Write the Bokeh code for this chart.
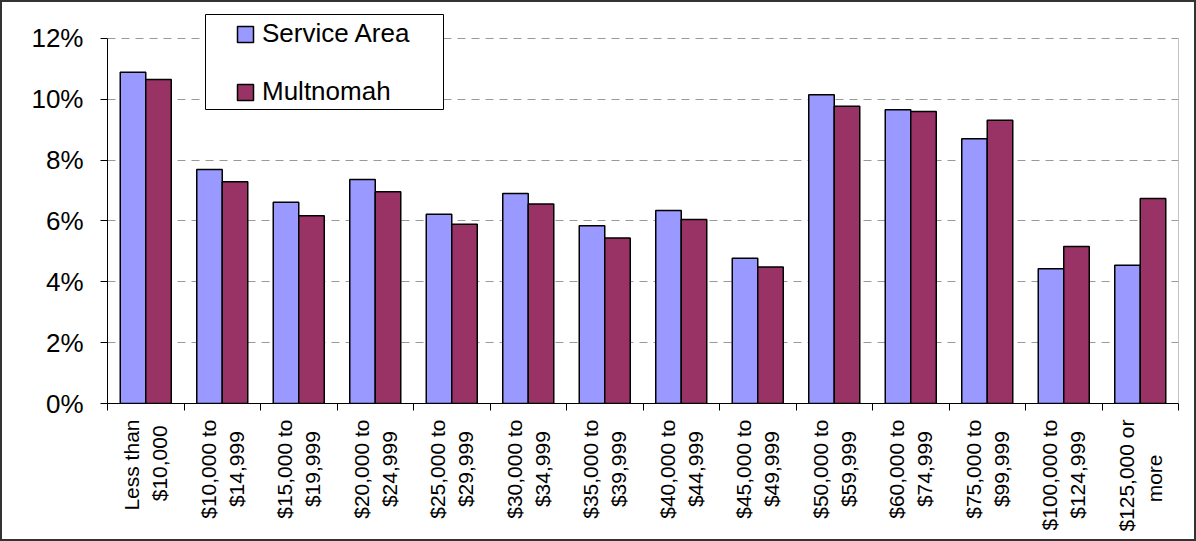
import math
from bokeh.plotting import figure
from bokeh.layouts import column
from bokeh.models import (ColumnDataSource, Range1d, FixedTicker, PrintfTickFormatter,
                          BoxAnnotation, Legend, LegendItem)
from bokeh.transform import dodge
from bokeh.embed import file_html
from bokeh.resources import INLINE

categories = ["Less than\n$10,000", "$10,000 to\n$14,999", "$15,000 to\n$19,999",
              "$20,000 to\n$24,999", "$25,000 to\n$29,999", "$30,000 to\n$34,999",
              "$35,000 to\n$39,999", "$40,000 to\n$44,999", "$45,000 to\n$49,999",
              "$50,000 to\n$59,999", "$60,000 to\n$74,999", "$75,000 to\n$99,999",
              "$100,000 to\n$124,999", "$125,000 or\nmore"]
service_area = [10.89, 7.69, 6.61, 7.36, 6.22, 6.90, 5.84, 6.34, 4.77, 10.15, 9.65, 8.70, 4.43, 4.54]
multnomah = [10.65, 7.29, 6.17, 6.96, 5.89, 6.56, 5.44, 6.05, 4.49, 9.77, 9.60, 9.31, 5.16, 6.74]
y_ticks = [0, 2, 4, 6, 8, 10, 12]

n = len(categories)
idx = list(range(n))
src = ColumnDataSource(dict(idx=idx, sa=service_area, mu=multnomah))

FONT = "Liberation Sans"
Y_TOP = 12.85  # headroom above 12% so the legend box is not clipped

# Approximate Arial/Liberation Sans advance widths (em) to centre the
# shorter line of each two-line tick label (Bokeh aligns them to the axis end).
_W = {" ": .278, ",": .278, "t": .278, "r": .333, "s": .5, "m": .833}
def _em(s):
    return sum(_W.get(ch, .556) for ch in s)

def centred(label):
    lines = label.split("\n")
    wmax = max(_em(l) for l in lines)
    out = []
    for l in lines:
        pad = int(round((wmax - _em(l)) / 2 / .278))
        out.append(l + "\u00a0" * pad)
    return "\n".join(out)

p = figure(width=1192, height=537, output_backend="svg", toolbar_location=None,
           x_range=Range1d(-0.5, n - 0.5), y_range=Range1d(0, Y_TOP),
           min_border_left=105, min_border_right=16, min_border_top=10, min_border_bottom=136)

r1 = p.vbar(x=dodge('idx', -1/6), top='sa', width=1/3, source=src,
            fill_color="#9999FF", line_color="black", line_width=1.5)
r2 = p.vbar(x=dodge('idx', 1/6), top='mu', width=1/3, source=src,
            fill_color="#993366", line_color="black", line_width=1.5)

# right border of the plot area (from 0% to 12%)
p.segment(x0=[n - 0.5], y0=[y_ticks[0]], x1=[n - 0.5], y1=[y_ticks[-1]],
          line_color="#888888", line_width=1)

# x axis
xa = p.xaxis[0]
xa.ticker = FixedTicker(ticks=idx, minor_ticks=[i - 0.5 for i in range(n + 1)])
xa.major_label_overrides = {i: centred(c) for i, c in enumerate(categories)}
xa.major_label_orientation = math.pi / 2
xa.major_tick_out = 0
xa.major_tick_in = 0
xa.minor_tick_out = 7
xa.minor_tick_in = 0
xa.minor_tick_line_color = "black"
xa.axis_line_color = "black"
xa.major_label_standoff = 9
xa.major_label_text_font = FONT
xa.major_label_text_font_size = "21px"
xa.major_label_text_color = "black"

# y axis
ya = p.yaxis[0]
ya.ticker = FixedTicker(ticks=y_ticks)
ya.formatter = PrintfTickFormatter(format="%d%%")
ya.bounds = (y_ticks[0], y_ticks[-1])
ya.major_tick_out = 7
ya.major_tick_in = 0
ya.minor_tick_line_color = None
ya.axis_line_color = "black"
ya.major_tick_line_color = "black"
ya.major_label_standoff = 17
ya.major_label_text_font = FONT
ya.major_label_text_font_size = "26px"
ya.major_label_text_color = "black"

p.xgrid.visible = False
p.ygrid.grid_line_color = "#999999"
p.ygrid.grid_line_dash = "8 6"
p.ygrid.grid_line_width = 1
p.outline_line_color = None
p.background_fill_color = "white"
p.border_fill_color = "white"

box = BoxAnnotation(left=98, right=336, bottom=294, top=389,
                    left_units="screen", right_units="screen",
                    bottom_units="screen", top_units="screen",
                    fill_color="white", fill_alpha=1.0,
                    line_color="black", line_width=1, line_alpha=1.0)
p.add_layout(box)

legend = Legend(items=[LegendItem(label="Service Area", renderers=[r1]),
                       LegendItem(label="Multnomah", renderers=[r2])],
                location=(128, 296), padding=0, margin=0, spacing=27,
                glyph_width=20, glyph_height=20, label_height=30, label_standoff=7,
                label_text_font=FONT, label_text_font_size="26px",
                label_text_color="black",
                border_line_alpha=0, background_fill_alpha=0)
p.add_layout(legend)

root = column(p, styles={"border": "2px solid #333333"})

open("out.html", "w").write(file_html(root, INLINE))
